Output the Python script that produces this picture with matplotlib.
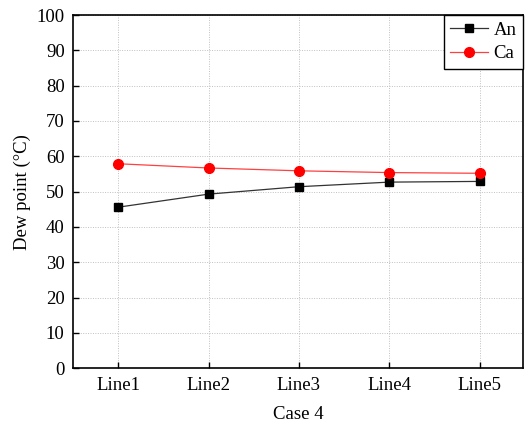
import matplotlib.pyplot as plt

categories = ['Line1', 'Line2', 'Line3', 'Line4', 'Line5']
an_values = [45.6, 49.3, 51.4, 52.7, 52.9]
ca_values = [57.9, 56.7, 55.9, 55.4, 55.2]
y_ticks = list(range(0, 101, 10))

plt.rcParams['font.family'] = ['Liberation Serif', 'DejaVu Serif']
plt.rcParams['font.size'] = 13.5

fig = plt.figure(figsize=(5.27, 4.29), dpi=100)
ax = fig.add_axes([0.1385, 0.1415, 0.8539, 0.8235])

x = list(range(1, len(categories) + 1))
ax.plot(x, an_values, color='#333333', linewidth=0.9, marker='s',
        markersize=6, markerfacecolor='black', markeredgecolor='black', label='An')
ax.plot(x, ca_values, color='#ff4040', linewidth=0.9, marker='o',
        markersize=7, markerfacecolor='red', markeredgecolor='red', label='Ca')

ax.set_xlim(0.5, 5.48)
ax.set_ylim(0, 100)
ax.set_xticks(x)
ax.set_xticklabels(categories)
ax.set_yticks(y_ticks)
ax.grid(True, linestyle=(0, (1, 1.5)), color='#c0c0c0', linewidth=0.7)
ax.set_axisbelow(True)
ax.tick_params(direction='in', length=4, width=1, pad=6, top=False, right=False)
for s in ax.spines.values():
    s.set_linewidth(1.2)

ax.set_xlabel('Case 4', labelpad=9)
ax.set_ylabel('Dew point (°C)', labelpad=4)

leg = ax.legend(loc='upper right', borderaxespad=0, fancybox=False,
                edgecolor='black', framealpha=1, handlelength=2.0,
                borderpad=0.35, labelspacing=0.35, handletextpad=0.3)
leg.get_frame().set_linewidth(1.0)

fig.savefig('out.png', dpi=100)
